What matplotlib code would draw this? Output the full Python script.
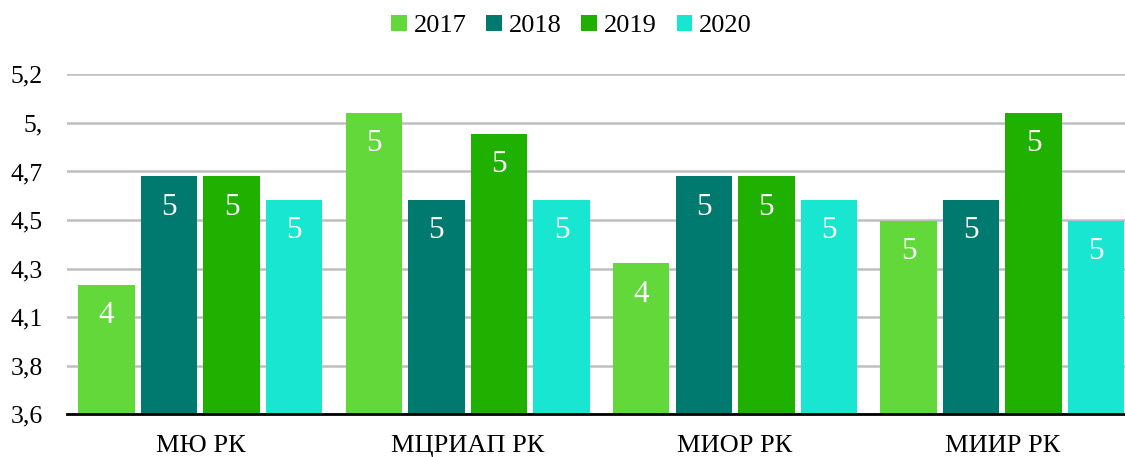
import numpy as np
import matplotlib
matplotlib.use("Agg")
import matplotlib.pyplot as plt

plt.rcParams["font.family"] = ["Liberation Serif", "DejaVu Serif"]

categories = ["МЮ РК", "МЦРИАП РК", "МИОР РК", "МИИР РК"]
years = ["2017", "2018", "2019", "2020"]
v2017 = [4.21, 5.02, 4.31, 4.51]
v2018 = [4.72, 4.61, 4.72, 4.61]
v2019 = [4.72, 4.92, 4.72, 5.02]
v2020 = [4.61, 4.61, 4.61, 4.51]
colors = ["#62d83a", "#007a6e", "#20b000", "#19e6d0"]
ytick_labels = ["3,6", "3,8", "4,1", "4,3", "4,5", "4,7", "5,", "5,2"]

fig = plt.figure(figsize=(11.25, 4.57), dpi=100)
ax = fig.add_axes([0.0593, 0.0934, 0.9505, 0.744])

x = np.arange(len(categories))
pitch = 0.234
width = 0.211
series = [v2017, v2018, v2019, v2020]
for i, (vals, col, yr) in enumerate(zip(series, colors, years)):
    pos = x + (i - 1.5) * pitch
    bars = ax.bar(pos, vals, width, color=col, label=yr, zorder=3)
    for b, v in zip(bars, vals):
        ax.text(b.get_x() + b.get_width() / 2, v - 0.145, f"{v:.0f}",
                ha="center", va="center", color="white", fontsize=22.5, zorder=4)

ax.set_ylim(3.6, 5.2)
ax.set_xlim(-0.5, 3.5)
ax.set_yticks(np.linspace(3.6, 5.2, 8))
ax.set_yticklabels(ytick_labels)
ax.set_xticks(x)
ax.set_xticklabels(categories)
ax.tick_params(axis="y", length=0, pad=17, labelsize=18.5)
ax.tick_params(axis="x", length=0, pad=15, labelsize=19)
ax.yaxis.grid(True, color="#bfbfbf", linewidth=1.8, zorder=0)
ax.set_axisbelow(True)
for s in ["top", "right", "left"]:
    ax.spines[s].set_visible(False)
ax.spines["bottom"].set_linewidth(2)
ax.spines["bottom"].set_zorder(5)

fig.legend(loc="upper center", bbox_to_anchor=(0.508, 1.02), ncol=4, frameon=False,
           fontsize=19, handlelength=0.6, handleheight=0.6, handletextpad=0.25,
           columnspacing=0.75)

fig.savefig("out.png", dpi=100)
